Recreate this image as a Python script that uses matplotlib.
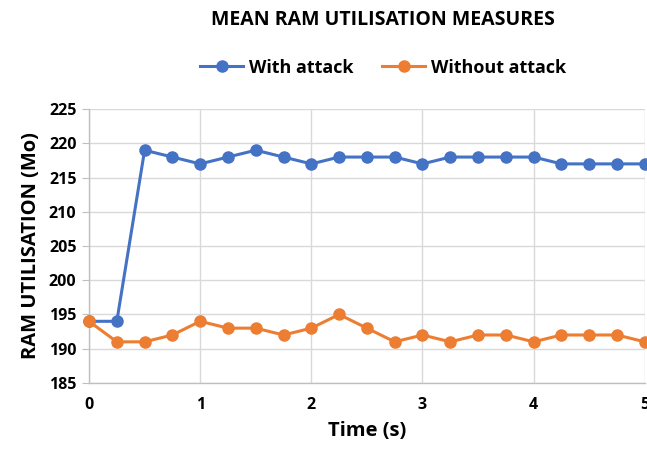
import matplotlib
matplotlib.use("Agg")
import matplotlib.pyplot as plt

time_s = [0, 0.25, 0.5, 0.75, 1, 1.25, 1.5, 1.75, 2, 2.25, 2.5, 2.75, 3, 3.25, 3.5, 3.75, 4, 4.25, 4.5, 4.75, 5]
with_attack = [194, 194, 219, 218, 217, 218, 219, 218, 217, 218, 218, 218, 217, 218, 218, 218, 218, 217, 217, 217, 217]
without_attack = [194, 191, 191, 192, 194, 193, 193, 192, 193, 195, 193, 191, 192, 191, 192, 192, 191, 192, 192, 192, 191]
x_ticks = [0, 1, 2, 3, 4, 5]
y_ticks = [185, 190, 195, 200, 205, 210, 215, 220, 225]

plt.rcParams['font.family'] = ['Open Sans', 'DejaVu Sans']

fig = plt.figure(figsize=(6.47, 4.51), dpi=100)
ax = fig.add_axes([0.1376, 0.151, 0.859, 0.607])

blue = '#4472C4'
orange = '#ED7D31'
ax.plot(time_s, with_attack, color=blue, lw=2.2, marker='o', ms=8, label='With attack', zorder=3, clip_on=False)
ax.plot(time_s, without_attack, color=orange, lw=2.2, marker='o', ms=8, label='Without attack', zorder=3, clip_on=False)

ax.set_xlim(0, 5)
ax.set_ylim(185, 225)
ax.set_xticks(x_ticks)
ax.set_yticks(y_ticks)
ax.grid(True, color='#D9D9D9', lw=1)
ax.set_axisbelow(True)
for s in ['top', 'right']:
    ax.spines[s].set_visible(False)
for s in ['left', 'bottom']:
    ax.spines[s].set_color('#BFBFBF')
    ax.spines[s].set_linewidth(1)
ax.tick_params(axis='y', length=5, color='#BFBFBF', labelsize=11.5, pad=4)
ax.tick_params(axis='x', length=0, labelsize=11.5, pad=10)
for lab in ax.get_xticklabels() + ax.get_yticklabels():
    lab.set_fontweight('bold')

ax.set_xlabel('Time (s)', fontsize=14.5, fontweight='bold', labelpad=6)
ax.set_ylabel('RAM UTILISATION (Mo)', fontsize=14.5, fontweight='bold', labelpad=6)

fig.text(0.592, 0.955, 'MEAN RAM UTILISATION MEASURES', ha='center', va='center', fontsize=14, fontweight='bold')
leg = fig.legend(loc='center', bbox_to_anchor=(0.592, 0.85), ncol=2, frameon=False,
                 prop={'weight': 'bold', 'size': 13}, handlelength=2.4, columnspacing=1.6, handletextpad=0.3)

fig.savefig('out.png', dpi=100)
